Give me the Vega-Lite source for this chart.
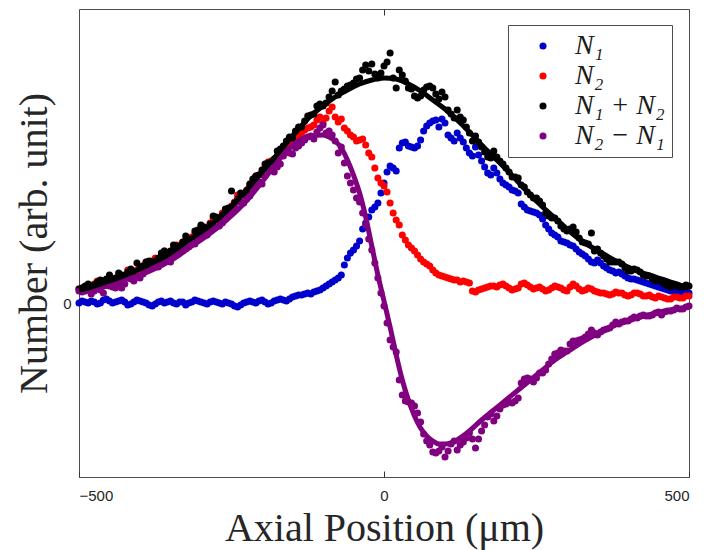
{
"$schema":"https://vega.github.io/schema/vega-lite/v6.json",
"width":610,"height":468,
"autosize":{"type":"none"},
"padding":{"left":79,"top":9,"right":15,"bottom":73},
"resolve":{"axis":{"x":"independent"}},
"config":{
"view":{"stroke":"#4d4d4d","strokeWidth":1},
"axis":{"grid":false,"domain":false,"labelFont":"Liberation Sans","labelFontSize":15,"labelColor":"#262626","tickColor":"#333333","tickWidth":1,"tickSize":-6,"titleFont":"Liberation Serif","titleFontSize":40,"titleFontWeight":"normal","titleColor":"#262626"},
"legend":{"orient":"none","legendX":429,"legendY":16,"strokeColor":"#4d4d4d","fillColor":"white","padding":7,"symbolType":"circle","symbolSize":50,"labelFont":"Liberation Serif","labelFontStyle":"italic","labelFontSize":28,"labelColor":"#1a1a1a","rowPadding":2,"symbolOffset":14,"labelOffset":18,"title":null}
},
"datasets":{
"n1":[{"x":-500,"y":0},{"x":-490,"y":1},{"x":-480,"y":2},{"x":-470,"y":-1},{"x":-460,"y":3},{"x":-450,"y":2},{"x":-440,"y":1},{"x":-430,"y":3},{"x":-420,"y":-2},{"x":-410,"y":1},{"x":-400,"y":2},{"x":-390,"y":0},{"x":-380,"y":-3},{"x":-370,"y":1},{"x":-360,"y":0},{"x":-350,"y":2},{"x":-340,"y":-1},{"x":-330,"y":1},{"x":-320,"y":0},{"x":-310,"y":3},{"x":-300,"y":1},{"x":-290,"y":-1},{"x":-280,"y":2},{"x":-270,"y":0},{"x":-260,"y":1},{"x":-250,"y":-1},{"x":-240,"y":-4},{"x":-230,"y":0},{"x":-220,"y":2},{"x":-210,"y":0},{"x":-200,"y":3},{"x":-190,"y":-1},{"x":-180,"y":2},{"x":-170,"y":4},{"x":-160,"y":2},{"x":-150,"y":6},{"x":-140,"y":8},{"x":-130,"y":9},{"x":-120,"y":9},{"x":-110,"y":12},{"x":-100,"y":15},{"x":-90,"y":19},{"x":-80,"y":23},{"x":-70,"y":28},{"x":-60,"y":45},{"x":-50,"y":53},{"x":-40,"y":62},{"x":-30,"y":80},{"x":-20,"y":93},{"x":-10,"y":100},{"x":0,"y":120},{"x":10,"y":137},{"x":20,"y":132},{"x":30,"y":160},{"x":40,"y":157},{"x":50,"y":155},{"x":60,"y":163},{"x":70,"y":177},{"x":80,"y":182},{"x":90,"y":176},{"x":100,"y":180},{"x":110,"y":165},{"x":120,"y":170},{"x":130,"y":161},{"x":140,"y":150},{"x":150,"y":156},{"x":160,"y":142},{"x":170,"y":130},{"x":180,"y":135},{"x":190,"y":124},{"x":200,"y":118},{"x":210,"y":113},{"x":220,"y":110},{"x":230,"y":96},{"x":240,"y":92},{"x":250,"y":90},{"x":260,"y":84},{"x":270,"y":74},{"x":280,"y":68},{"x":290,"y":62},{"x":300,"y":60},{"x":310,"y":57},{"x":320,"y":51},{"x":330,"y":47},{"x":340,"y":41},{"x":350,"y":43},{"x":360,"y":37},{"x":370,"y":33},{"x":380,"y":30},{"x":390,"y":29},{"x":400,"y":25},{"x":410,"y":24},{"x":420,"y":22},{"x":430,"y":20},{"x":440,"y":18},{"x":450,"y":16},{"x":460,"y":14},{"x":470,"y":12},{"x":480,"y":11},{"x":490,"y":11},{"x":500,"y":10},
{"x":-495,"y":2},{"x":-485,"y":0},{"x":-475,"y":1},{"x":-465,"y":0},{"x":-455,"y":4},{"x":-445,"y":0},{"x":-435,"y":2},{"x":-425,"y":1},{"x":-415,"y":-1},{"x":-405,"y":3},{"x":-395,"y":1},{"x":-385,"y":-2},{"x":-375,"y":-1},{"x":-365,"y":2},{"x":-355,"y":1},{"x":-345,"y":0},{"x":-335,"y":1},{"x":-325,"y":-2},{"x":-315,"y":1},{"x":-305,"y":2},{"x":-295,"y":0},{"x":-285,"y":1},{"x":-275,"y":1},{"x":-265,"y":-1},{"x":-255,"y":0},{"x":-245,"y":-3},{"x":-235,"y":-2},{"x":-225,"y":1},{"x":-215,"y":1},{"x":-205,"y":2},{"x":-195,"y":1},{"x":-185,"y":0},{"x":-175,"y":3},{"x":-165,"y":3},{"x":-155,"y":4},{"x":-145,"y":7},{"x":-135,"y":8},{"x":-125,"y":10},{"x":-115,"y":11},{"x":-105,"y":13},{"x":-95,"y":17},{"x":-85,"y":21},{"x":-75,"y":25},{"x":-65,"y":38},{"x":-55,"y":50},{"x":-45,"y":57},{"x":-35,"y":74},{"x":-25,"y":86},{"x":-15,"y":96},{"x":-5,"y":110},{"x":5,"y":131},{"x":15,"y":135},{"x":25,"y":155},{"x":35,"y":161},{"x":45,"y":156},{"x":55,"y":157},{"x":65,"y":172},{"x":75,"y":180},{"x":85,"y":183},{"x":95,"y":184},{"x":105,"y":168},{"x":115,"y":162},{"x":125,"y":165},{"x":135,"y":155},{"x":145,"y":147},{"x":155,"y":148},{"x":165,"y":136},{"x":175,"y":128},{"x":185,"y":130},{"x":195,"y":120},{"x":205,"y":116},{"x":215,"y":112},{"x":225,"y":99},{"x":235,"y":93},{"x":245,"y":91},{"x":255,"y":88},{"x":265,"y":78},{"x":275,"y":70},{"x":285,"y":66},{"x":295,"y":61},{"x":305,"y":58},{"x":315,"y":54},{"x":325,"y":49},{"x":335,"y":44},{"x":345,"y":40},{"x":355,"y":40},{"x":365,"y":35},{"x":375,"y":32},{"x":385,"y":31},{"x":395,"y":27},{"x":405,"y":24},{"x":415,"y":23},{"x":425,"y":21},{"x":435,"y":19},{"x":445,"y":17},{"x":455,"y":15},{"x":465,"y":13},{"x":475,"y":12},{"x":485,"y":11},{"x":495,"y":11}],
"n2":[{"x":-500,"y":14},{"x":-490,"y":16},{"x":-480,"y":15},{"x":-470,"y":22},{"x":-460,"y":19},{"x":-450,"y":26},{"x":-440,"y":24},{"x":-430,"y":25},{"x":-420,"y":33},{"x":-410,"y":30},{"x":-400,"y":34},{"x":-390,"y":41},{"x":-380,"y":42},{"x":-370,"y":44},{"x":-360,"y":52},{"x":-350,"y":50},{"x":-340,"y":58},{"x":-330,"y":60},{"x":-320,"y":64},{"x":-310,"y":69},{"x":-300,"y":77},{"x":-290,"y":75},{"x":-280,"y":85},{"x":-270,"y":84},{"x":-260,"y":93},{"x":-250,"y":97},{"x":-240,"y":108},{"x":-230,"y":108},{"x":-220,"y":117},{"x":-210,"y":127},{"x":-200,"y":130},{"x":-190,"y":141},{"x":-180,"y":142},{"x":-170,"y":150},{"x":-160,"y":160},{"x":-150,"y":160},{"x":-140,"y":168},{"x":-130,"y":173},{"x":-120,"y":176},{"x":-110,"y":183},{"x":-100,"y":180},{"x":-90,"y":192},{"x":-80,"y":186},{"x":-70,"y":184},{"x":-60,"y":172},{"x":-50,"y":166},{"x":-40,"y":163},{"x":-30,"y":158},{"x":-20,"y":146},{"x":-10,"y":125},{"x":0,"y":117},{"x":10,"y":100},{"x":20,"y":83},{"x":30,"y":68},{"x":40,"y":58},{"x":50,"y":52},{"x":60,"y":44},{"x":70,"y":39},{"x":80,"y":33},{"x":90,"y":28},{"x":100,"y":26},{"x":110,"y":24},{"x":120,"y":23},{"x":130,"y":22},{"x":140,"y":20},{"x":150,"y":11},{"x":160,"y":14},{"x":170,"y":16},{"x":180,"y":17},{"x":190,"y":18},{"x":200,"y":17},{"x":210,"y":13},{"x":220,"y":15},{"x":230,"y":20},{"x":240,"y":16},{"x":250,"y":15},{"x":260,"y":14},{"x":270,"y":13},{"x":280,"y":17},{"x":290,"y":15},{"x":300,"y":12},{"x":310,"y":19},{"x":320,"y":14},{"x":330,"y":13},{"x":340,"y":14},{"x":350,"y":11},{"x":360,"y":10},{"x":370,"y":8},{"x":380,"y":11},{"x":390,"y":10},{"x":400,"y":7},{"x":410,"y":10},{"x":420,"y":9},{"x":430,"y":7},{"x":440,"y":6},{"x":450,"y":7},{"x":460,"y":5},{"x":470,"y":4},{"x":480,"y":6},{"x":490,"y":5},{"x":500,"y":7},
{"x":-495,"y":15},{"x":-485,"y":17},{"x":-475,"y":19},{"x":-465,"y":20},{"x":-455,"y":23},{"x":-445,"y":24},{"x":-435,"y":27},{"x":-425,"y":28},{"x":-415,"y":31},{"x":-405,"y":33},{"x":-395,"y":37},{"x":-385,"y":40},{"x":-375,"y":45},{"x":-365,"y":47},{"x":-355,"y":50},{"x":-345,"y":55},{"x":-335,"y":57},{"x":-325,"y":63},{"x":-315,"y":66},{"x":-305,"y":72},{"x":-295,"y":74},{"x":-285,"y":80},{"x":-275,"y":83},{"x":-265,"y":90},{"x":-255,"y":94},{"x":-245,"y":101},{"x":-235,"y":109},{"x":-225,"y":113},{"x":-215,"y":121},{"x":-205,"y":128},{"x":-195,"y":136},{"x":-185,"y":142},{"x":-175,"y":146},{"x":-165,"y":156},{"x":-155,"y":159},{"x":-145,"y":166},{"x":-135,"y":170},{"x":-125,"y":175},{"x":-115,"y":178},{"x":-105,"y":186},{"x":-95,"y":185},{"x":-85,"y":196},{"x":-75,"y":181},{"x":-65,"y":175},{"x":-55,"y":168},{"x":-45,"y":162},{"x":-35,"y":164},{"x":-25,"y":150},{"x":-15,"y":135},{"x":-5,"y":120},{"x":5,"y":111},{"x":15,"y":90},{"x":25,"y":78},{"x":35,"y":63},{"x":45,"y":55},{"x":55,"y":48},{"x":65,"y":41},{"x":75,"y":37},{"x":85,"y":30},{"x":95,"y":27},{"x":105,"y":25},{"x":115,"y":23},{"x":125,"y":21},{"x":135,"y":21},{"x":145,"y":12},{"x":155,"y":13},{"x":165,"y":15},{"x":175,"y":17},{"x":185,"y":16},{"x":195,"y":19},{"x":205,"y":15},{"x":215,"y":14},{"x":225,"y":19},{"x":235,"y":18},{"x":245,"y":14},{"x":255,"y":16},{"x":265,"y":12},{"x":275,"y":15},{"x":285,"y":16},{"x":295,"y":13},{"x":305,"y":16},{"x":315,"y":17},{"x":325,"y":12},{"x":335,"y":15},{"x":345,"y":12},{"x":355,"y":10},{"x":365,"y":9},{"x":375,"y":9},{"x":385,"y":10},{"x":395,"y":8},{"x":405,"y":8},{"x":415,"y":10},{"x":425,"y":7},{"x":435,"y":8},{"x":445,"y":5},{"x":455,"y":6},{"x":465,"y":4},{"x":475,"y":6},{"x":485,"y":5},{"x":495,"y":7}],
"nsum":[{"x":-500,"y":14},{"x":-490,"y":17},{"x":-480,"y":17},{"x":-470,"y":21},{"x":-460,"y":22},{"x":-450,"y":28},{"x":-440,"y":25},{"x":-430,"y":28},{"x":-420,"y":31},{"x":-410,"y":31},{"x":-400,"y":36},{"x":-390,"y":41},{"x":-380,"y":39},{"x":-370,"y":45},{"x":-360,"y":52},{"x":-350,"y":52},{"x":-340,"y":57},{"x":-330,"y":61},{"x":-320,"y":64},{"x":-310,"y":72},{"x":-300,"y":78},{"x":-290,"y":74},{"x":-280,"y":87},{"x":-270,"y":84},{"x":-260,"y":94},{"x":-250,"y":112},{"x":-240,"y":104},{"x":-230,"y":108},{"x":-220,"y":119},{"x":-210,"y":127},{"x":-200,"y":133},{"x":-190,"y":140},{"x":-180,"y":144},{"x":-170,"y":154},{"x":-160,"y":162},{"x":-150,"y":165},{"x":-140,"y":176},{"x":-130,"y":182},{"x":-120,"y":188},{"x":-110,"y":197},{"x":-100,"y":197},{"x":-90,"y":206},{"x":-80,"y":221},{"x":-70,"y":212},{"x":-60,"y":217},{"x":-50,"y":220},{"x":-40,"y":225},{"x":-30,"y":238},{"x":-20,"y":239},{"x":-10,"y":225},{"x":0,"y":237},{"x":10,"y":250},{"x":20,"y":215},{"x":30,"y":228},{"x":40,"y":215},{"x":50,"y":207},{"x":60,"y":207},{"x":70,"y":216},{"x":80,"y":215},{"x":90,"y":204},{"x":100,"y":206},{"x":110,"y":189},{"x":120,"y":193},{"x":130,"y":183},{"x":140,"y":170},{"x":150,"y":167},{"x":160,"y":156},{"x":170,"y":146},{"x":180,"y":152},{"x":190,"y":142},{"x":200,"y":135},{"x":210,"y":126},{"x":220,"y":125},{"x":230,"y":116},{"x":240,"y":108},{"x":250,"y":105},{"x":260,"y":98},{"x":270,"y":87},{"x":280,"y":85},{"x":290,"y":77},{"x":300,"y":72},{"x":310,"y":76},{"x":320,"y":65},{"x":330,"y":60},{"x":340,"y":70},{"x":350,"y":54},{"x":360,"y":47},{"x":370,"y":41},{"x":380,"y":41},{"x":390,"y":39},{"x":400,"y":32},{"x":410,"y":34},{"x":420,"y":31},{"x":430,"y":27},{"x":440,"y":24},{"x":450,"y":23},{"x":460,"y":19},{"x":470,"y":16},{"x":480,"y":17},{"x":490,"y":16},{"x":500,"y":17},
{"x":-495,"y":15},{"x":-485,"y":19},{"x":-475,"y":18},{"x":-465,"y":23},{"x":-455,"y":24},{"x":-445,"y":22},{"x":-435,"y":30},{"x":-425,"y":27},{"x":-415,"y":34},{"x":-405,"y":40},{"x":-395,"y":37},{"x":-385,"y":42},{"x":-375,"y":42},{"x":-365,"y":50},{"x":-355,"y":48},{"x":-345,"y":58},{"x":-335,"y":56},{"x":-325,"y":67},{"x":-315,"y":64},{"x":-305,"y":73},{"x":-295,"y":76},{"x":-285,"y":79},{"x":-275,"y":86},{"x":-265,"y":88},{"x":-255,"y":95},{"x":-245,"y":100},{"x":-235,"y":110},{"x":-225,"y":112},{"x":-215,"y":124},{"x":-205,"y":128},{"x":-195,"y":139},{"x":-185,"y":141},{"x":-175,"y":152},{"x":-165,"y":157},{"x":-155,"y":166},{"x":-145,"y":172},{"x":-135,"y":176},{"x":-125,"y":187},{"x":-115,"y":189},{"x":-105,"y":199},{"x":-95,"y":200},{"x":-85,"y":212},{"x":-75,"y":208},{"x":-65,"y":214},{"x":-55,"y":218},{"x":-45,"y":224},{"x":-35,"y":233},{"x":-25,"y":232},{"x":-15,"y":229},{"x":-5,"y":230},{"x":5,"y":241},{"x":15,"y":225},{"x":25,"y":233},{"x":35,"y":222},{"x":45,"y":214},{"x":55,"y":205},{"x":65,"y":213},{"x":75,"y":217},{"x":85,"y":209},{"x":95,"y":211},{"x":105,"y":193},{"x":115,"y":185},{"x":125,"y":186},{"x":135,"y":176},{"x":145,"y":162},{"x":155,"y":161},{"x":165,"y":151},{"x":175,"y":145},{"x":185,"y":146},{"x":195,"y":139},{"x":205,"y":131},{"x":215,"y":126},{"x":225,"y":118},{"x":235,"y":111},{"x":245,"y":105},{"x":255,"y":102},{"x":265,"y":90},{"x":275,"y":85},{"x":285,"y":82},{"x":295,"y":74},{"x":305,"y":74},{"x":315,"y":71},{"x":325,"y":61},{"x":335,"y":59},{"x":345,"y":52},{"x":355,"y":50},{"x":365,"y":44},{"x":375,"y":41},{"x":385,"y":41},{"x":395,"y":35},{"x":405,"y":32},{"x":415,"y":33},{"x":425,"y":28},{"x":435,"y":27},{"x":445,"y":22},{"x":455,"y":21},{"x":465,"y":17},{"x":475,"y":18},{"x":485,"y":16},{"x":495,"y":18}],
"ndiff":[{"x":-500,"y":12},{"x":-490,"y":12},{"x":-480,"y":9},{"x":-470,"y":16},{"x":-460,"y":10},{"x":-450,"y":17},{"x":-440,"y":15},{"x":-430,"y":15},{"x":-420,"y":27},{"x":-410,"y":22},{"x":-400,"y":25},{"x":-390,"y":33},{"x":-380,"y":37},{"x":-370,"y":36},{"x":-360,"y":44},{"x":-350,"y":41},{"x":-340,"y":51},{"x":-330,"y":52},{"x":-320,"y":56},{"x":-310,"y":59},{"x":-300,"y":68},{"x":-290,"y":68},{"x":-280,"y":75},{"x":-270,"y":77},{"x":-260,"y":84},{"x":-250,"y":90},{"x":-240,"y":103},{"x":-230,"y":100},{"x":-220,"y":107},{"x":-210,"y":119},{"x":-200,"y":119},{"x":-190,"y":133},{"x":-180,"y":131},{"x":-170,"y":139},{"x":-160,"y":151},{"x":-150,"y":149},{"x":-140,"y":157},{"x":-130,"y":163},{"x":-120,"y":167},{"x":-110,"y":171},{"x":-100,"y":178},{"x":-90,"y":172},{"x":-80,"y":162},{"x":-70,"y":156},{"x":-60,"y":127},{"x":-50,"y":113},{"x":-40,"y":101},{"x":-30,"y":78},{"x":-20,"y":53},{"x":-10,"y":25},{"x":0,"y":-3},{"x":10,"y":-37},{"x":20,"y":-49},{"x":30,"y":-92},{"x":40,"y":-99},{"x":50,"y":-103},{"x":60,"y":-119},{"x":70,"y":-138},{"x":80,"y":-149},{"x":90,"y":-148},{"x":100,"y":-154},{"x":110,"y":-141},{"x":120,"y":-147},{"x":130,"y":-139},{"x":140,"y":-130},{"x":150,"y":-145},{"x":160,"y":-128},{"x":170,"y":-114},{"x":180,"y":-118},{"x":190,"y":-106},{"x":200,"y":-101},{"x":210,"y":-100},{"x":220,"y":-95},{"x":230,"y":-76},{"x":240,"y":-76},{"x":250,"y":-75},{"x":260,"y":-70},{"x":270,"y":-61},{"x":280,"y":-51},{"x":290,"y":-47},{"x":300,"y":-48},{"x":310,"y":-38},{"x":320,"y":-37},{"x":330,"y":-34},{"x":340,"y":-27},{"x":350,"y":-32},{"x":360,"y":-27},{"x":370,"y":-25},{"x":380,"y":-19},{"x":390,"y":-19},{"x":400,"y":-18},{"x":410,"y":-14},{"x":420,"y":-13},{"x":430,"y":-13},{"x":440,"y":-12},{"x":450,"y":-9},{"x":460,"y":-9},{"x":470,"y":-8},{"x":480,"y":-5},{"x":490,"y":-6},{"x":500,"y":-3},
{"x":-495,"y":11},{"x":-485,"y":14},{"x":-475,"y":12},{"x":-465,"y":13},{"x":-455,"y":18},{"x":-445,"y":16},{"x":-435,"y":20},{"x":-425,"y":19},{"x":-415,"y":24},{"x":-405,"y":26},{"x":-395,"y":29},{"x":-385,"y":35},{"x":-375,"y":40},{"x":-365,"y":39},{"x":-355,"y":46},{"x":-345,"y":48},{"x":-335,"y":54},{"x":-325,"y":54},{"x":-315,"y":60},{"x":-305,"y":63},{"x":-295,"y":70},{"x":-285,"y":72},{"x":-275,"y":76},{"x":-265,"y":80},{"x":-255,"y":88},{"x":-245,"y":96},{"x":-235,"y":101},{"x":-225,"y":104},{"x":-215,"y":114},{"x":-205,"y":121},{"x":-195,"y":127},{"x":-185,"y":134},{"x":-175,"y":136},{"x":-165,"y":147},{"x":-155,"y":150},{"x":-145,"y":155},{"x":-135,"y":160},{"x":-125,"y":166},{"x":-115,"y":164},{"x":-105,"y":175},{"x":-95,"y":170},{"x":-85,"y":168},{"x":-75,"y":150},{"x":-65,"y":140},{"x":-55,"y":120},{"x":-45,"y":105},{"x":-35,"y":90},{"x":-25,"y":64},{"x":-15,"y":40},{"x":-5,"y":10},{"x":5,"y":-20},{"x":15,"y":-44},{"x":25,"y":-77},{"x":35,"y":-98},{"x":45,"y":-100},{"x":55,"y":-110},{"x":65,"y":-131},{"x":75,"y":-142},{"x":85,"y":-150},{"x":95,"y":-144},{"x":105,"y":-148},{"x":115,"y":-138},{"x":125,"y":-142},{"x":135,"y":-135},{"x":145,"y":-136},{"x":155,"y":-136},{"x":165,"y":-122},{"x":175,"y":-111},{"x":185,"y":-113},{"x":195,"y":-102},{"x":205,"y":-99},{"x":215,"y":-98},{"x":225,"y":-80},{"x":235,"y":-75},{"x":245,"y":-79},{"x":255,"y":-70},{"x":265,"y":-67},{"x":275,"y":-56},{"x":285,"y":-50},{"x":295,"y":-48},{"x":305,"y":-41},{"x":315,"y":-38},{"x":325,"y":-36},{"x":335,"y":-31},{"x":345,"y":-30},{"x":355,"y":-29},{"x":365,"y":-26},{"x":375,"y":-22},{"x":385,"y":-21},{"x":395,"y":-18},{"x":405,"y":-16},{"x":415,"y":-15},{"x":425,"y":-12},{"x":435,"y":-13},{"x":445,"y":-10},{"x":455,"y":-12},{"x":465,"y":-8},{"x":475,"y":-7},{"x":485,"y":-6},{"x":495,"y":-4}],
"fitsum":[{"x":-500,"y":13},{"x":-480,"y":16},{"x":-460,"y":20},{"x":-440,"y":24},{"x":-420,"y":29},{"x":-400,"y":34},{"x":-380,"y":40},{"x":-360,"y":46},{"x":-340,"y":54},{"x":-320,"y":63},{"x":-300,"y":71},{"x":-280,"y":80},{"x":-260,"y":91},{"x":-240,"y":103},{"x":-220,"y":117},{"x":-200,"y":131},{"x":-180,"y":145},{"x":-160,"y":160},{"x":-140,"y":174},{"x":-120,"y":187},{"x":-100,"y":197},{"x":-80,"y":206},{"x":-60,"y":213},{"x":-40,"y":219},{"x":-20,"y":223},{"x":0,"y":225},{"x":20,"y":224},{"x":40,"y":219},{"x":60,"y":212},{"x":80,"y":203},{"x":100,"y":194},{"x":120,"y":183},{"x":140,"y":171},{"x":160,"y":158},{"x":180,"y":146},{"x":200,"y":134},{"x":220,"y":121},{"x":240,"y":108},{"x":260,"y":96},{"x":280,"y":85},{"x":300,"y":74},{"x":320,"y":64},{"x":340,"y":56},{"x":360,"y":49},{"x":380,"y":42},{"x":400,"y":36},{"x":420,"y":31},{"x":440,"y":27},{"x":460,"y":23},{"x":480,"y":19},{"x":500,"y":15}],
"fitdiff":[{"x":-500,"y":11},{"x":-480,"y":13},{"x":-460,"y":16},{"x":-440,"y":19},{"x":-420,"y":24},{"x":-400,"y":28},{"x":-380,"y":33},{"x":-360,"y":39},{"x":-340,"y":46},{"x":-320,"y":55},{"x":-300,"y":63},{"x":-280,"y":72},{"x":-260,"y":82},{"x":-240,"y":93},{"x":-220,"y":106},{"x":-200,"y":121},{"x":-180,"y":137},{"x":-160,"y":152},{"x":-140,"y":162},{"x":-120,"y":167},{"x":-100,"y":168},{"x":-90,"y":166},{"x":-80,"y":162},{"x":-70,"y":155},{"x":-60,"y":143},{"x":-50,"y":128},{"x":-40,"y":110},{"x":-30,"y":86},{"x":-20,"y":57},{"x":-10,"y":28},{"x":0,"y":2},{"x":10,"y":-24},{"x":20,"y":-52},{"x":30,"y":-77},{"x":40,"y":-97},{"x":50,"y":-113},{"x":60,"y":-125},{"x":70,"y":-133},{"x":80,"y":-138},{"x":90,"y":-141},{"x":100,"y":-141},{"x":110,"y":-140},{"x":120,"y":-137},{"x":140,"y":-128},{"x":160,"y":-117},{"x":180,"y":-107},{"x":200,"y":-97},{"x":220,"y":-87},{"x":240,"y":-77},{"x":260,"y":-67},{"x":280,"y":-57},{"x":300,"y":-49},{"x":320,"y":-41},{"x":340,"y":-34},{"x":360,"y":-28},{"x":380,"y":-22},{"x":400,"y":-18},{"x":420,"y":-14},{"x":440,"y":-11},{"x":460,"y":-8},{"x":480,"y":-6},{"x":500,"y":-4}]
},
"layer":[
{"data":{"name":"n1"},"mark":{"type":"circle","size":50,"opacity":1},
"encoding":{
"x":{"field":"x","type":"quantitative","scale":{"domain":[-500,500],"nice":false,"zero":false},"axis":{"orient":"bottom","values":[-500,0,500],"title":"Axial Position (μm)","labelPadding":17,"titlePadding":5}},
"y":{"field":"y","type":"quantitative","scale":{"domain":[-174,294],"nice":false,"zero":false},"axis":{"orient":"left","values":[0],"title":"Number (arb. unit)","labelPadding":14,"titlePadding":8}},
"color":{"datum":"N₁","scale":{"domain":["N₁","N₂","N₁ + N₂","N₂ − N₁"],"range":["#0000CC","#FF0000","#000000","#800080"]}}}},
{"data":{"name":"n2"},"mark":{"type":"circle","size":50,"opacity":1},
"encoding":{"x":{"field":"x","type":"quantitative","axis":null},"y":{"field":"y","type":"quantitative"},"color":{"datum":"N₂"}}},
{"data":{"name":"nsum"},"mark":{"type":"circle","size":50,"opacity":1},
"encoding":{"x":{"field":"x","type":"quantitative","axis":null},"y":{"field":"y","type":"quantitative"},"color":{"datum":"N₁ + N₂"}}},
{"data":{"name":"ndiff"},"mark":{"type":"circle","size":50,"opacity":1},
"encoding":{"x":{"field":"x","type":"quantitative","axis":null},"y":{"field":"y","type":"quantitative"},"color":{"datum":"N₂ − N₁"}}},
{"data":{"name":"fitdiff"},"mark":{"type":"line","color":"#800080","strokeWidth":5,"interpolate":"monotone"},
"encoding":{"x":{"field":"x","type":"quantitative","axis":null},"y":{"field":"y","type":"quantitative"}}},
{"data":{"name":"fitsum"},"mark":{"type":"line","color":"#000000","strokeWidth":5,"interpolate":"monotone"},
"encoding":{"x":{"field":"x","type":"quantitative","axis":{"orient":"top","values":[0],"labels":false,"title":null}},"y":{"field":"y","type":"quantitative"}}}
]
}
